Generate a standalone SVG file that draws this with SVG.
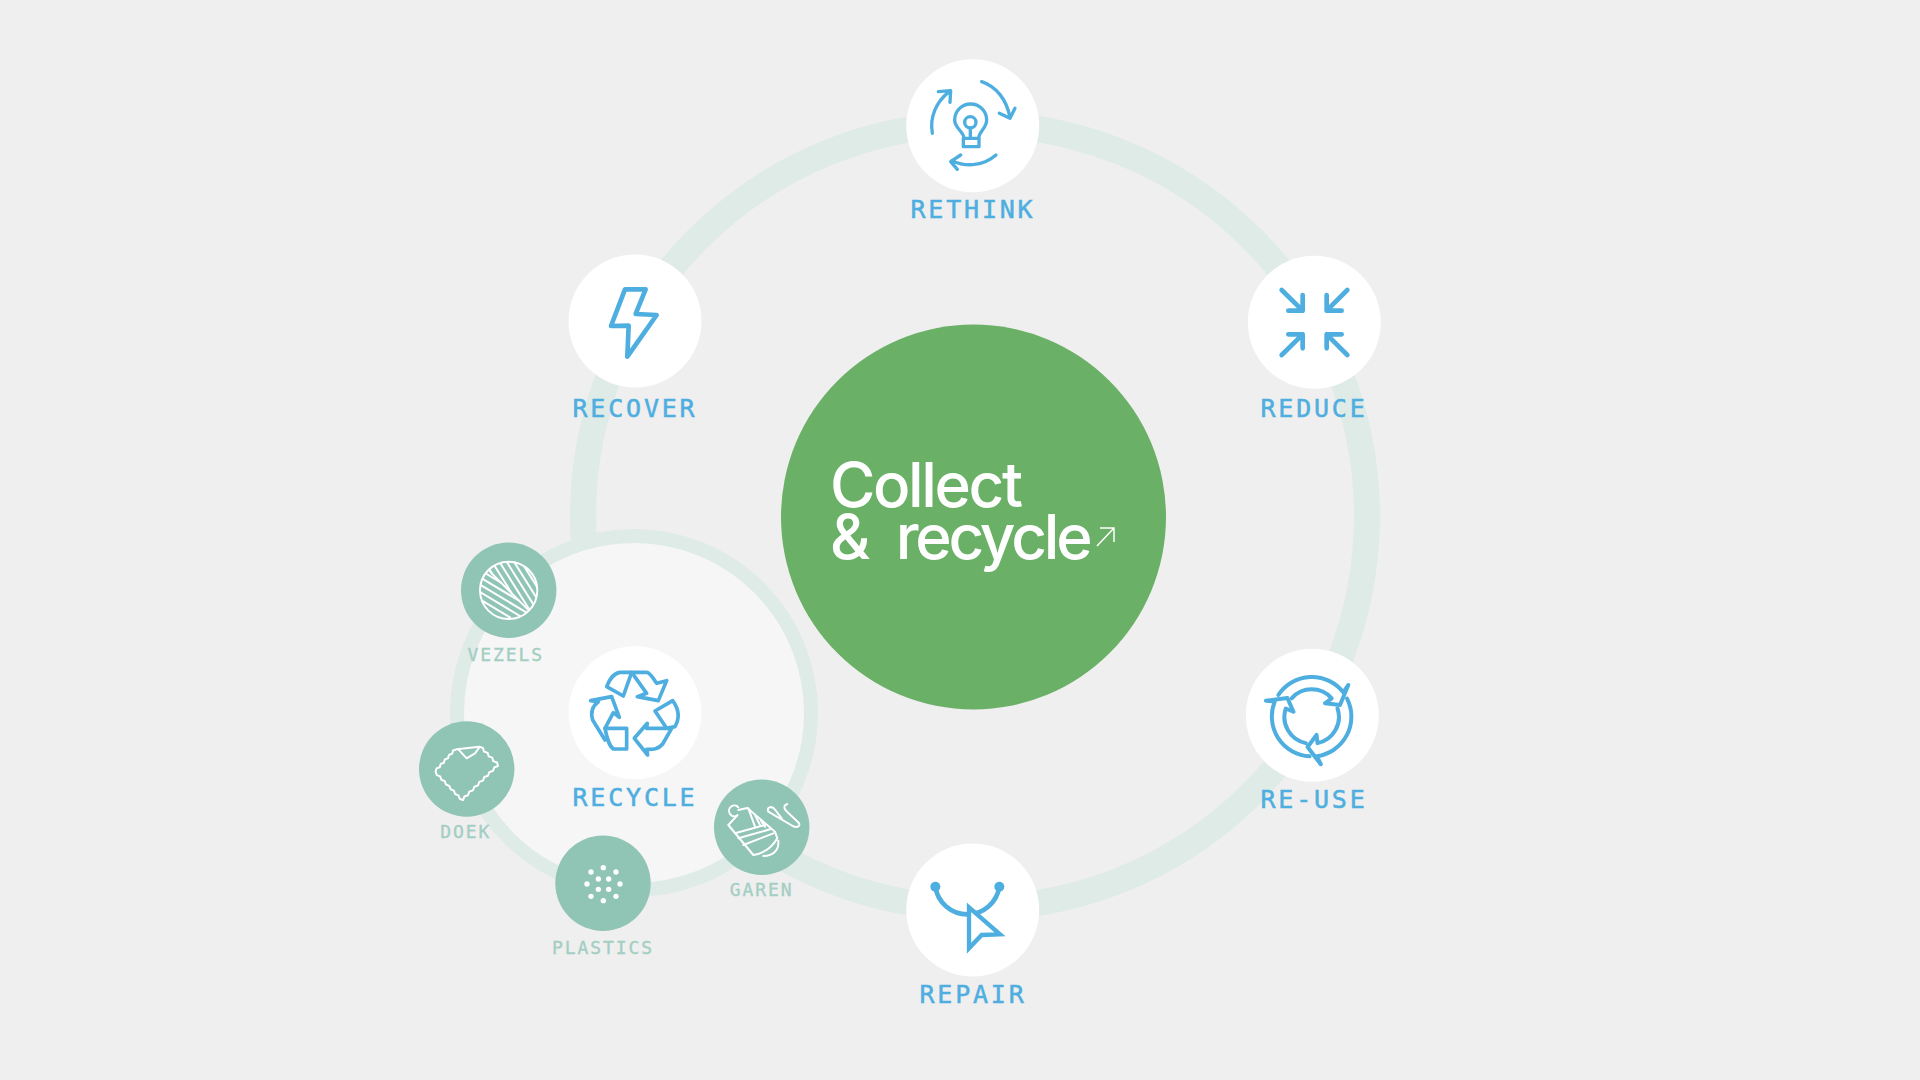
<svg xmlns="http://www.w3.org/2000/svg" xmlns:xlink="http://www.w3.org/1999/xlink" width="1920" height="1080" viewBox="0 0 1920 1080">
<style>
.n{fill:#fff}
.s{fill:#90c4b5}
.t{font-family:"DejaVu Sans Mono",monospace;font-size:25px;letter-spacing:2.800px;fill:#4eaee0;stroke:#4eaee0;stroke-width:.5px;text-anchor:middle}
.u{font-family:"DejaVu Sans Mono",monospace;font-size:18px;letter-spacing:1.900px;fill:#a3cec2;stroke:#a3cec2;stroke-width:.35px;text-anchor:middle}
.i{fill:none;stroke:#4eaee0;stroke-linecap:round;stroke-linejoin:round}
.w{fill:none;stroke:#fff;stroke-linecap:round;stroke-linejoin:round}
.h{font-family:Inter,"Liberation Sans",sans-serif;font-size:62px;font-weight:500;letter-spacing:-2.400px;fill:#fff}
.h2{letter-spacing:-3.200px;word-spacing:15px}
</style>
<defs>
<clipPath id="vc"><circle cx="176" cy="181" r="86"/></clipPath>
<path id="ru" d="M145 180A120 120 0 0 1 340 172L355 150L330 210L285 205L305 190A80 80 0 0 0 185 190"/>
</defs>
<rect width="1920" height="1080" fill="#efefef"/>
<g id="connectors">
<circle cx="975" cy="516" r="392" fill="none" stroke="#deebe7" stroke-width="26"/>
<circle cx="634" cy="713" r="177" fill="#f6f6f6" stroke="#deebe7" stroke-width="14"/>
</g>
<g id="center">
<circle cx="973.500" cy="517" r="192.500" fill="#6ab066"/>
<text class="h" x="830" y="507">Collect</text>
<text class="h h2" x="830" y="559">&amp; recycle</text>
<path d="M1097 546L1114 528M1100 528H1114V542" fill="none" stroke="#fff" stroke-width="1.500"/>
</g>
<g id="rethink">
<circle class="n" cx="972.700" cy="125.700" r="66.500"/>
<g class="i" transform="translate(880 40) scale(.3333)" stroke-width="10">
<path d="M157 280C148 230 170 185 205 157M175 155L212 152L210 187"/>
<path d="M305 125C350 140 380 180 390 232M358 220L390 235L405 205"/>
<path d="M348 345C310 378 260 382 215 362M242 345L212 365L232 388"/>
<path d="M252 295C252 275 224 265 224 240A48 48 0 1 1 320 240C320 265 296 275 296 295"/>
<circle cx="271" cy="247" r="17"/>
<path d="M271 264V295M250 295H297V320H250Z"/>
</g>
<text class="t" x="973" y="218">RETHINK</text>
</g>
<g id="reduce">
<circle class="n" cx="1314.300" cy="322.300" r="66.500"/>
<g class="i" transform="translate(1230 240) scale(.3333)" stroke-width="14">
<path d="M155 150L218 212M218 165V212H175"/>
<path d="M352 150L290 212M290 165V212H335"/>
<path d="M155 345L218 283M175 283H218V325"/>
<path d="M352 345L290 283M335 283H290V325"/>
</g>
<text class="t" x="1314" y="417">REDUCE</text>
</g>
<g id="recover">
<circle class="n" cx="635" cy="321" r="66.500"/>
<path class="i" transform="translate(550 240) scale(.3333)" stroke-width="14" d="M225 148H287L257 222L320 225L232 350L236 257L183 258Z"/>
<text class="t" x="635" y="417">RECOVER</text>
</g>
<g id="re-use">
<circle class="n" cx="1312.300" cy="715.300" r="66.500"/>
<g class="i" transform="translate(1230 635) scale(.3333)" stroke-width="12">
<use href="#ru"/>
<use href="#ru" transform="rotate(120 245 245)"/>
<use href="#ru" transform="rotate(240 245 245)"/>
</g>
<text class="t" x="1314" y="808">RE-USE</text>
</g>
<g id="repair">
<circle class="n" cx="972.700" cy="910" r="66.500"/>
<g transform="translate(890 830) scale(.3333)">
<path class="i" stroke-width="14" d="M136 170A97 97 0 0 0 328 170"/>
<circle cx="136" cy="170" r="15" fill="#4eaee0"/>
<circle cx="328" cy="170" r="15" fill="#4eaee0"/>
<path d="M237 232L330 313L275 315L237 355Z" fill="#fff" stroke="#4eaee0" stroke-width="13"/>
</g>
<text class="t" x="973" y="1003">REPAIR</text>
</g>
<g id="recycle">
<circle class="n" cx="635" cy="712.700" r="66.500"/>
<g class="i" transform="translate(550 630) scale(.3333)" stroke-width="11">
<path d="M170 170C180 145 190 130 210 127H245L220 198Z"/>
<path d="M245 127H290C300 127 310 145 320 160L350 152L325 212L262 200L290 190L252 137"/>
<path d="M315 243L368 212C385 235 392 260 375 290L350 295Z"/>
<path d="M365 295L338 342C325 358 310 358 290 358L293 375L253 325L292 280L290 295H365"/>
<path d="M165 295H230V357H190C175 345 170 320 165 295Z"/>
<path d="M165 330L128 270C122 250 125 230 145 215L122 212L185 200L208 262L190 248L165 295"/>
</g>
<text class="t" x="635" y="806">RECYCLE</text>
</g>
<g id="vezels">
<circle class="s" cx="508.700" cy="590.300" r="47.700"/>
<g class="w" transform="translate(450 530) scale(.3333)" stroke-width="6">
<circle cx="176" cy="181" r="86"/>
<g clip-path="url(#vc)">
<path d="M120 125L240 245"/>
<path d="M104 95L127 132M126 95L186 191M148 95L245 250M170 95L303 308M192 95L300 268M214 95L300 233"/>
<path d="M90 120L152 157M90 142L207 212M90 164L240 254M90 186L220 264M90 208L180 262"/>
</g>
</g>
<text class="u" x="505.700" y="661">VEZELS</text>
</g>
<g id="doek">
<circle class="s" cx="466.700" cy="769" r="47.700"/>
<g class="w" transform="translate(410 710) scale(.3333)" stroke-width="6">
<path d="M140 118L208 110l11 4l3 10.500l11 4l3 10.500l11 4l3 10.500l11 4l3 10.500l-11 4l-4 10.600l-11 4l-4 10.600l-11 4l-4 10.600l-11 4l-4 10.600l-11 4l-4 10.600l-11 4l-4 10.600l-11 4l-4 10.600l-10 -4l-3.700 -10.200l-10 -4l-3.700 -10.200l-10 -4l-3.700 -10.200l-10 -4l-3.700 -10.200l-10 -4l-3.700 -10.200l-10 -4l-3.700 -10.200l3 -10l9.400 -3.400l3 -10l9.400 -3.400l3 -10l9.400 -3.400l3 -10l9.400 -3.400l3 -10l9.400 -3.400Z"/>
<path d="M145 118L170 145L195 130L208 112"/>
</g>
<text class="u" x="465.700" y="838">DOEK</text>
</g>
<g id="plastics">
<circle class="s" cx="603" cy="883.300" r="47.700"/>
<g fill="#fff" transform="translate(540 825) scale(.3333)">
<circle cx="190" cy="128" r="8"/><circle cx="228" cy="141" r="8"/><circle cx="240" cy="177" r="8"/><circle cx="228" cy="214" r="8"/><circle cx="190" cy="227" r="8"/><circle cx="153" cy="214" r="8"/><circle cx="141" cy="177" r="8"/><circle cx="153" cy="141" r="8"/>
<circle cx="175" cy="162" r="8"/><circle cx="206" cy="162" r="8"/><circle cx="206" cy="193" r="8"/><circle cx="175" cy="193" r="8"/>
</g>
<text class="u" x="603" y="954">PLASTICS</text>
</g>
<g id="garen">
<circle class="s" cx="761.700" cy="827.300" r="47.700"/>
<g class="w" transform="translate(700 770) scale(.3333)" stroke-width="6">
<path d="M112 136A16 16 0 1 1 115 112"/>
<path d="M115 120L142 114L225 185L232 205C215 235 190 250 160 255L85 165L112 136"/>
<path d="M190 258C220 258 238 240 235 212"/>
<path d="M105 190L195 165M115 205L210 178M130 225L220 190"/>
<path d="M145 115L165 170M165 135L180 165M183 152L195 170"/>
<path d="M262 102C252 105 250 112 258 122L296 158C303 168 292 175 278 168L205 125C198 112 215 105 226 120L245 145"/>
</g>
<text class="u" x="761.700" y="896">GAREN</text>
</g>
</svg>
